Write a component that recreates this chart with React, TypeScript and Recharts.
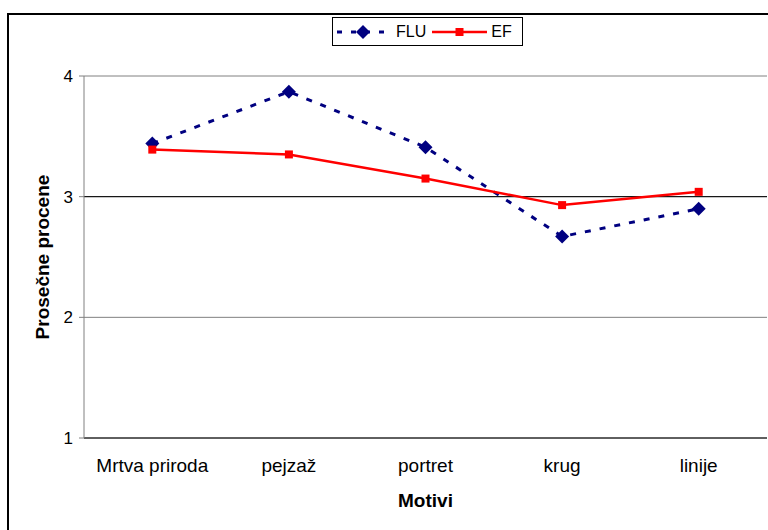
import React from 'react'
import {
  CartesianGrid,
  Legend,
  Line,
  LineChart,
  ReferenceLine,
  XAxis,
  YAxis,
} from 'recharts'

// Average ratings per motif, two groups (FLU dashed navy, EF solid red).

const categories = ['Mrtva priroda', 'pejzaž', 'portret', 'krug', 'linije']
const fluValues = [3.44, 3.87, 3.41, 2.67, 2.9]
const efValues = [3.39, 3.35, 3.15, 2.93, 3.04]
const yTicks = [1, 2, 3, 4]
const bandEdges = [0, 1, 2, 3, 4, 5]
const bandCentres = categories.map((_, i) => i + 0.5)

const data = categories.map((motiv, i) => ({
  motiv,
  pos: bandCentres[i],
  flu: fluValues[i],
  ef: efValues[i],
}))

const NAVY = '#000080'
const RED = '#ff0000'
const GREY = '#808080'
const FONT = '"Liberation Sans", Arial, sans-serif'

const Diamond = (props: any) => {
  const { cx, cy } = props
  if (cx == null || cy == null) return null
  const r = 7
  return (
    <path
      d={`M${cx},${cy - r} L${cx + r},${cy} L${cx},${cy + r} L${cx - r},${cy} Z`}
      fill={NAVY}
      stroke="none"
    />
  )
}

const Square = (props: any) => {
  const { cx, cy } = props
  if (cx == null || cy == null) return null
  return <rect x={cx - 4} y={cy - 4} width={8} height={8} fill={RED} stroke="none" />
}

const LegendBox = () => (
  <div
    style={{
      boxSizing: 'border-box',
      width: 191,
      height: 29,
      border: '1px solid #000',
      background: '#fff',
      display: 'flex',
      alignItems: 'center',
      paddingLeft: 4,
      fontSize: 16,
      fontFamily: FONT,
      color: '#000',
    }}
  >
    <svg width={52} height={16}>
      <line x1={0} y1={8} x2={52} y2={8} stroke={NAVY} strokeWidth={3} strokeDasharray="5 9" />
      <path d="M26,1 L33,8 L26,15 L19,8 Z" fill={NAVY} />
    </svg>
    <span style={{ marginLeft: 7 }}>FLU</span>
    <svg width={55} height={16} style={{ marginLeft: 6 }}>
      <line x1={0} y1={8} x2={55} y2={8} stroke={RED} strokeWidth={2.5} />
      <rect x={23.5} y={4} width={8} height={8} fill={RED} />
    </svg>
    <span style={{ marginLeft: 4 }}>EF</span>
  </div>
)

export default function App() {
  return (
    <div
      style={{
        position: 'fixed',
        left: 0,
        top: 0,
        width: 768,
        height: 530,
        overflow: 'hidden',
        background: '#fff',
        fontFamily: FONT,
      }}
    >
      <div
        style={{
          position: 'absolute',
          left: 7,
          top: 13,
          width: 800,
          height: 600,
          borderLeft: '2px solid #000',
          borderTop: '2px solid #000',
        }}
      />
      <div style={{ position: 'absolute', left: 0, top: 0 }}>
        <LineChart
          width={768}
          height={530}
          data={data}
          margin={{ top: 76, right: 1, left: 8, bottom: 36 }}
        >
          <CartesianGrid
            xAxisId="axis"
            horizontal
            vertical={false}
            stroke={GREY}
            strokeWidth={1}
          />
          <ReferenceLine xAxisId="axis" y={3} stroke="#000" strokeWidth={1} />
          <XAxis
            xAxisId="axis"
            type="number"
            dataKey="pos"
            domain={[0, 5]}
            ticks={bandEdges}
            interval={0}
            tick={false}
            tickSize={6}
            tickLine={{ stroke: GREY }}
            axisLine={{ stroke: '#000' }}
            height={1}
          />
          <XAxis
            xAxisId="labels"
            type="number"
            dataKey="pos"
            domain={[0, 5]}
            ticks={bandCentres}
            interval={0}
            tickFormatter={(v: number) => categories[Math.floor(v)]}
            axisLine={false}
            tickLine={false}
            tickSize={0}
            tickMargin={20}
            height={55}
            tick={{ fill: '#000', fontSize: 19, fontFamily: FONT }}
            label={{
              value: 'Motivi',
              position: 'bottom',
              offset: 0,
              style: { fill: '#000', fontSize: 19, fontWeight: 'bold', fontFamily: FONT },
            }}
          />
          <YAxis
            domain={[1, 4]}
            ticks={yTicks}
            interval={0}
            width={76}
            tickSize={5}
            tickMargin={6}
            axisLine={{ stroke: GREY }}
            tickLine={{ stroke: GREY }}
            tick={{ fill: '#000', fontSize: 17, fontFamily: FONT }}
            label={{
              value: 'Prosečne procene',
              angle: -90,
              position: 'insideLeft',
              offset: 34,
              style: {
                textAnchor: 'middle',
                fill: '#000',
                fontSize: 19,
                fontWeight: 'bold',
                fontFamily: FONT,
              },
            }}
          />
          <Legend
            layout="vertical"
            align="center"
            verticalAlign="middle"
            content={<LegendBox />}
            wrapperStyle={{ position: 'absolute', left: 332, top: 17, width: 191 }}
          />
          <Line
            xAxisId="axis"
            name="FLU"
            dataKey="flu"
            type="linear"
            stroke={NAVY}
            strokeWidth={3}
            strokeDasharray="6 9"
            dot={<Diamond />}
            activeDot={false}
            isAnimationActive={false}
          />
          <Line
            xAxisId="axis"
            name="EF"
            dataKey="ef"
            type="linear"
            stroke={RED}
            strokeWidth={2.5}
            dot={<Square />}
            activeDot={false}
            isAnimationActive={false}
          />
        </LineChart>
      </div>
    </div>
  )
}
